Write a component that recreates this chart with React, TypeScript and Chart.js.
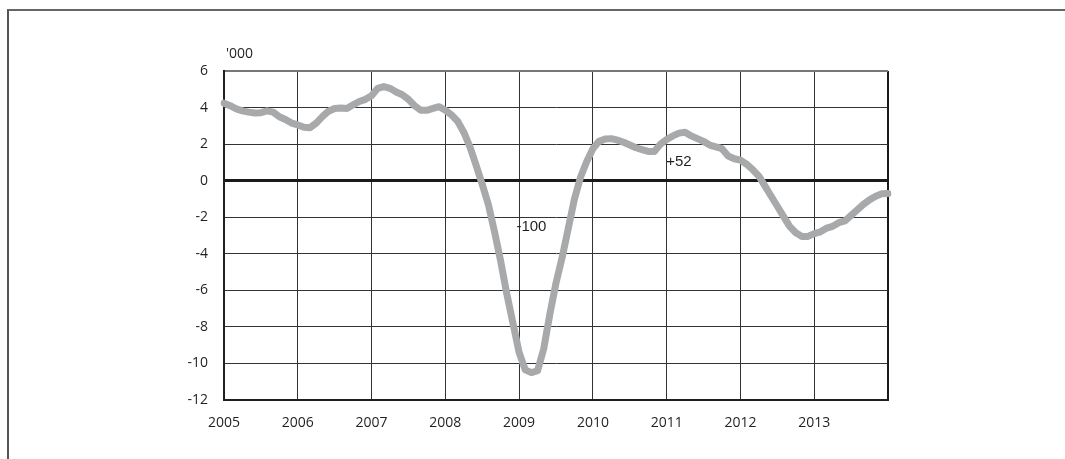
import React, { useEffect, useRef } from "react";
import { Chart, registerables } from "chart.js";

Chart.register(...registerables);

const YEARS = ["2005", "2006", "2007", "2008", "2009", "2010", "2011", "2012", "2013"];
const MONTHS = ["01", "02", "03", "04", "05", "06", "07", "08", "09", "10", "11", "12"];
const END_LABEL = "2014-01";

// Monthly values, thousands
const VALUES_2005 = [4.24, 4.1, 3.93, 3.82, 3.75, 3.7, 3.72, 3.82, 3.75, 3.5, 3.35, 3.15];
const VALUES_2006 = [3.05, 2.92, 2.9, 3.15, 3.5, 3.8, 3.95, 3.97, 3.95, 4.15, 4.33, 4.45];
const VALUES_2007 = [4.65, 5.05, 5.15, 5.05, 4.85, 4.7, 4.45, 4.1, 3.85, 3.85, 3.95, 4.05];
const VALUES_2008 = [3.85, 3.6, 3.25, 2.65, 1.85, 0.85, -0.2, -1.3, -2.8, -4.4, -6.2, -7.8];
const VALUES_2009 = [-9.4, -10.35, -10.5, -10.4, -9.2, -7.3, -5.6, -4.2, -2.6, -1.0, 0.2, 1.05];
const VALUES_2010 = [1.75, 2.15, 2.28, 2.3, 2.22, 2.1, 1.95, 1.8, 1.7, 1.6, 1.6, 2.0];
const VALUES_2011 = [2.25, 2.45, 2.6, 2.65, 2.45, 2.3, 2.15, 1.95, 1.85, 1.75, 1.35, 1.2];
const VALUES_2012 = [1.12, 0.9, 0.6, 0.25, -0.3, -0.85, -1.4, -1.95, -2.5, -2.85, -3.05, -3.05];
const VALUES_2013 = [-2.9, -2.8, -2.6, -2.5, -2.3, -2.2, -1.9, -1.6, -1.3, -1.05, -0.85, -0.72];
const VALUES_2014 = [-0.7];

const Y_MIN = -12;
const Y_MAX = 6;
const Y_STEP = 2;
const UNIT_LABEL = "'000";

const ANNOTATION_TEXT = ["-100", "+52"];
const ANNOTATION_AT = ["2009-03", "2011-03"];
const ANNOTATION_VALUE = [-2.5, 1.05];

const LABELS: string[] = [];
YEARS.forEach((y) => MONTHS.forEach((m) => LABELS.push(`${y}-${m}`)));
LABELS.push(END_LABEL);

const VALUES = [
  ...VALUES_2005,
  ...VALUES_2006,
  ...VALUES_2007,
  ...VALUES_2008,
  ...VALUES_2009,
  ...VALUES_2010,
  ...VALUES_2011,
  ...VALUES_2012,
  ...VALUES_2013,
  ...VALUES_2014,
];

const TICK_FONT = { family: "'Open Sans', 'DejaVu Sans', sans-serif", size: 14 };
const TEXT_COLOR = "#231f20";

const overlayPlugin = {
  id: "overlayText",
  afterDatasetsDraw(chart: any) {
    const { ctx, chartArea } = chart;
    const xs = chart.scales.x;
    const ys = chart.scales.y;
    ctx.save();
    ctx.fillStyle = TEXT_COLOR;
    ctx.font = "15px 'Liberation Sans', Arial, sans-serif";
    ctx.textAlign = "center";
    ctx.textBaseline = "middle";
    ANNOTATION_TEXT.forEach((t, i) => {
      const px = xs.getPixelForValue(LABELS.indexOf(ANNOTATION_AT[i]));
      const py = ys.getPixelForValue(ANNOTATION_VALUE[i]);
      ctx.fillText(t, px, py);
    });
    ctx.font = "14px 'Open Sans', sans-serif";
    ctx.textAlign = "left";
    ctx.fillText(UNIT_LABEL, chartArea.left + 2, chartArea.top - 17);
    ctx.restore();
  },
};

export default function App() {
  const canvasRef = useRef<HTMLCanvasElement | null>(null);

  useEffect(() => {
    if (!canvasRef.current) return;
    const chart = new Chart(canvasRef.current, {
      type: "line",
      data: {
        labels: LABELS,
        datasets: [
          {
            data: VALUES,
            borderColor: "#a7a9ab",
            borderWidth: 7,
            pointRadius: 0,
            tension: 0,
            borderJoinStyle: "round",
            borderCapStyle: "round",
            fill: false,
          },
        ],
      },
      options: {
        responsive: false,
        animation: false,
        layout: { padding: { left: 0, top: 71, right: 177, bottom: 0 } },
        plugins: { legend: { display: false }, tooltip: { enabled: false } },
        scales: {
          x: {
            type: "category",
            offset: false,
            afterFit: (scale: any) => {
              scale.height = 59;
            },
            border: { color: TEXT_COLOR, width: 2 },
            grid: {
              drawTicks: false,
              color: (c: any) => {
                const lab = LABELS[c.index];
                if (c.index === LABELS.length - 1) return "#1a1a1a";
                return lab && lab.endsWith("-01") ? "#333333" : "rgba(0,0,0,0)";
              },
              lineWidth: (c: any) => (c.index === LABELS.length - 1 ? 2 : 1),
            },
            ticks: {
              autoSkip: false,
              maxRotation: 0,
              minRotation: 0,
              padding: 15,
              color: TEXT_COLOR,
              font: TICK_FONT,
              callback: (_v: any, i: number) => {
                const lab = LABELS[i];
                if (i === LABELS.length - 1) return "";
                return lab.endsWith("-01") ? lab.slice(0, 4) : "";
              },
            },
          },
          y: {
            min: Y_MIN,
            max: Y_MAX,
            afterFit: (scale: any) => {
              scale.width = 224;
            },
            border: { color: TEXT_COLOR, width: 2 },
            grid: {
              drawTicks: false,
              color: (c: any) => {
                const v = c.tick && c.tick.value;
                if (v === 0) return "#1a1a1a";
                if (v === Y_MAX) return "#777777";
                return "#333333";
              },
              lineWidth: (c: any) => {
                const v = c.tick && c.tick.value;
                if (v === 0) return 3;
                if (v === Y_MAX) return 2;
                return 1;
              },
            },
            ticks: {
              stepSize: Y_STEP,
              padding: 16,
              color: TEXT_COLOR,
              font: TICK_FONT,
            },
          },
        },
      },
      plugins: [overlayPlugin],
    });
    return () => chart.destroy();
  }, []);

  return (
    <div
      style={{
        position: "absolute",
        left: 0,
        top: 0,
        width: 1065,
        height: 459,
        overflow: "hidden",
        background: "#ffffff",
      }}
    >
      <div
        style={{
          position: "absolute",
          left: 7,
          top: 9,
          width: 1100,
          height: 500,
          borderTop: "2px solid #666666",
          borderLeft: "2px solid #555555",
        }}
      />
      <canvas
        ref={canvasRef}
        width={1065}
        height={459}
        style={{ position: "absolute", left: 0, top: 0, display: "block" }}
      />
    </div>
  );
}
